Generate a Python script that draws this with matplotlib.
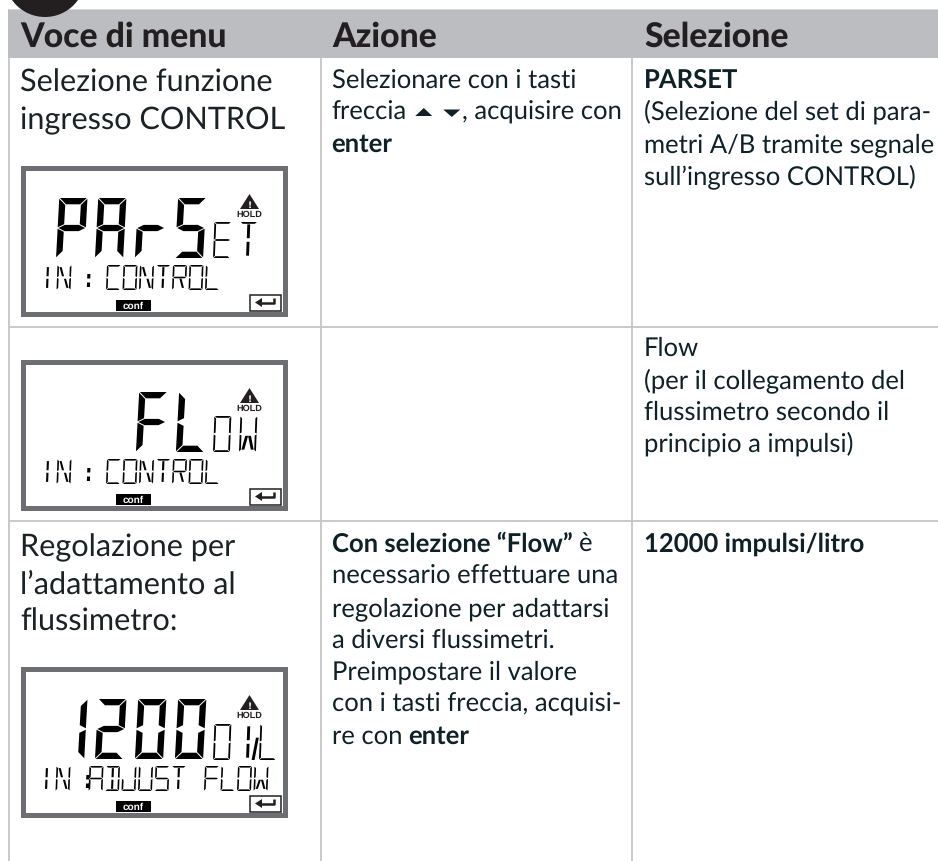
import matplotlib
matplotlib.use('Agg')
import matplotlib.pyplot as plt
from matplotlib.font_manager import FontProperties
from matplotlib.patches import Rectangle, Circle
from matplotlib.textpath import TextPath
from fontTools.fontBuilder import FontBuilder
from fontTools.pens.ttGlyphPen import TTGlyphPen

plt.rcParams['text.hinting'] = 'no_hinting'

# table text
headers = ['Voce di menu', 'Azione', 'Selezione']
menu_rows = [
    ['Selezione funzione', 'ingresso CONTROL'],
    ['Regolazione per', 'l\u2019adattamento al', 'flussimetro:'],
]
action_row1 = [
    [('Selezionare con i tasti', False)],
    [('freccia', False), ('arrows', 'sym'), (', acquisire con', False)],
    [('enter', True)],
]
action_row3 = [
    [('Con selezione \u201CFlow\u201D', True), ('\u00E8', False)],
    [('necessario effettuare una', False)],
    [('regolazione per adattarsi', False)],
    [('a diversi flussimetri.', False)],
    [('Preimpostare il valore', False)],
    [('con i tasti freccia, acquisi-', False)],
    [('re con', False), ('enter', True)],
]
select_row1 = [
    [('PARSET', True)],
    [('(Selezione del set di para-', False)],
    [('metri A/B tramite segnale', False)],
    [('sull\u2019ingresso CONTROL)', False)],
]
select_row2 = [
    [('Flow', False)],
    [('(per il collegamento del', False)],
    [('flussimetro secondo il', False)],
    [('principio a impulsi)', False)],
]
select_row3 = [[('12000 impulsi/litro', True)]]

# what the three LCD panels show: top of frame, big digits, small chars, bottom line
lcd_tops = [165, 359, 666]
lcd_big = ['PArS', '  FL', '1200']
lcd_small = ['ET', 'OW', '0!/L']
lcd_line = ['IN: CONTROL', 'IN: CONTROL', 'IN:ADJUST FLOW']
lcd_line_x = [40.5, 40.5, 39]

# segments lit for each LCD character
big_map = {'P': 'abefg', 'A': 'abcefg', 'r': 'eg', 'S': 'acdfg', 'F': 'aefg', 'L': 'def',
           '1': 'bc', '2': 'abdeg', '0': 'abcdef'}
thin_map = {'I': 'hi', 'N': 'bcefjm', 'C': 'adef', 'O': 'abcdef', 'T': 'ahi', 'R': 'abefgm',
            'L': 'def', 'A': 'abcefg', 'D': 'abcdhi', 'J': 'bcde', 'U': 'bcdef', 'S': 'acdfg',
            'F': 'aefg', 'W': 'bceflm', 'E': 'adefg', '0': 'abcdef', '!': 'hi', '/': 'n', ':': 'p'}

GRID = '#c4c5c7'
BAND = '#bcbdc0'
DARK = '#231f20'
BODY = '#0f2027'
FRAME = '#6d6e71'


def seg_polys(name, w, t, g, extra):
    c = w / 2
    hh = t / 2
    lo = t + g
    if name == 'a':
        return [(g, 1), (w - g, 1), (w - lo, 1 - t), (lo, 1 - t)]
    if name == 'd':
        return [(g, 0), (w - g, 0), (w - lo, t), (lo, t)]
    if name == 'g':
        return [(g, .5), (lo, .5 + hh), (w - lo, .5 + hh), (w - g, .5), (w - lo, .5 - hh), (lo, .5 - hh)]
    if name == 'f':
        return [(0, 1 - g), (t, 1 - lo), (t, .5 + hh + g), (0, .5 + g)]
    if name == 'e':
        return [(0, .5 - g), (t, .5 - hh - g), (t, lo), (0, g)]
    if name == 'b':
        return [(w, 1 - g), (w - t, 1 - lo), (w - t, .5 + hh + g), (w, .5 + g)]
    if name == 'c':
        return [(w, .5 - g), (w - t, .5 - hh - g), (w - t, lo), (w, g)]
    e = extra / 2
    if name == 'h':
        return [(c - e, 1 - lo), (c + e, 1 - lo), (c + e, .55), (c - e, .55)]
    if name == 'i':
        return [(c - e, .45), (c + e, .45), (c + e, lo), (c - e, lo)]
    if name == 'j':
        return [(lo, 1 - lo), (lo + 2 * e, 1 - lo), (c, .55), (c - 2 * e, .55)]
    if name == 'l':
        return [(lo, lo), (lo + 2 * e, lo), (c, .45), (c - 2 * e, .45)]
    if name == 'm':
        return [(w - lo, lo), (w - lo - 2 * e, lo), (c, .45), (c + 2 * e, .45)]
    if name == 'n':
        return [(w * .1, 0), (w * .1 + 2 * e, 0), (w * .3 + 2 * e, .62), (w * .3, .62)]
    raise ValueError(name)


def build_lcd_font(path, family, char_map, adv, w, t, g, extra, slant, char_adv={}):
    # small TrueType font so the LCD lettering stays real text
    order = ['.notdef', 'space']
    cmap = {32: 'space'}
    advs = {'.notdef': adv, 'space': adv}
    glyphs = {'.notdef': TTGlyphPen(None).glyph(), 'space': TTGlyphPen(None).glyph()}
    for ch, segs in char_map.items():
        gname = 'uni%04X' % ord(ch)
        order.append(gname)
        cmap[ord(ch)] = gname
        advs[gname] = char_adv.get(ch, adv)
        pen = TTGlyphPen(None)
        if segs == 'p':
            polys = [[(w * .98, .64), (w * 1.2, .64), (w * 1.2, .46), (w * .98, .46)],
                     [(w * .98, .30), (w * 1.2, .30), (w * 1.2, .12), (w * .98, .12)]]
        else:
            polys = [seg_polys(s, w, t, g, extra) for s in segs]
        for poly in polys:
            pts = [(int(round((x + slant * y) * 1000)), int(round(y * 1000))) for x, y in poly]
            area = sum(pts[k][0] * pts[(k + 1) % len(pts)][1] - pts[(k + 1) % len(pts)][0] * pts[k][1]
                       for k in range(len(pts)))
            if area > 0:
                pts = pts[::-1]
            pen.moveTo(pts[0])
            for p in pts[1:]:
                pen.lineTo(p)
            pen.closePath()
        glyphs[gname] = pen.glyph()
    fb = FontBuilder(1000, isTTF=True)
    fb.setupGlyphOrder(order)
    fb.setupCharacterMap(cmap)
    fb.setupGlyf(glyphs)
    glyf = fb.font['glyf']
    fb.setupHorizontalMetrics({n: (int(advs[n] * 1000), getattr(glyf[n], 'xMin', 0) or 0) for n in order})
    fb.setupHorizontalHeader(ascent=1000, descent=-200)
    fb.setupNameTable({'familyName': family, 'styleName': 'Regular'})
    fb.setupOS2(sTypoAscender=1000, sTypoDescender=-200, usWinAscent=1000, usWinDescent=200)
    fb.setupPost()
    fb.save(path)
    return FontProperties(fname=path)


big_fp = build_lcd_font('lcd_big.ttf', 'LCD Big', big_map, 40 / 60, .47, .105, .012, .1, .055)
# the third panel packs '!/L' tighter than the normal small-character pitch
mid_fp = build_lcd_font('lcd_mid.ttf', 'LCD Mid', thin_map, 27 / 36, .47, .05, .015, .08, .04,
                        char_adv={'!': 11 / 36, '/': 9 / 36})
thin_fp = build_lcd_font('lcd_thin.ttf', 'LCD Thin', thin_map, 16.5 / 25, .56, .065, .02, .085, .04)

PX = 72 / 100
fig = plt.figure(figsize=(9.38, 8.61), dpi=100)
ax = fig.add_axes([0, 0, 1, 1])
ax.set_xlim(0, 938)
ax.set_ylim(861, 0)
ax.axis('off')
renderer = fig.canvas.get_renderer()

FAMILY = 'Lato'
HEAD_WEIGHT = 'black'


def fit_size(s, width, weight):
    fp = FontProperties(family=FAMILY, weight=weight)
    return width / TextPath((0, 0), s, size=1, prop=fp).get_extents().width * PX


size_head = fit_size(headers[0], 205, HEAD_WEIGHT)
size_menu = fit_size(menu_rows[0][0], 251, 'normal')
size_body = fit_size(select_row1[1][0][0], 285, 'normal')


def run_width(s, size, family, weight):
    # bar added on both sides so spaces at the ends are counted
    def ext(txt):
        t = ax.text(0, 0, txt, family=family, weight=weight, size=size)
        w = t.get_window_extent(renderer).width
        t.remove()
        return w
    return ext('|' + s + '|') - ext('||')


def draw_lines(x, y0, lines, pitch=32):
    for n, runs in enumerate(lines):
        xp = x
        y = y0 + n * pitch
        for s, style in runs:
            if style == 'sym':
                # flat arrow keys, up then down
                ax.fill([xp + 2, xp + 19, xp + 10.5], [y - 4, y - 4, y - 12], color=BODY, lw=0)
                ax.fill([xp + 30, xp + 47, xp + 38.5], [y - 10.5, y - 10.5, y - 3], color=BODY, lw=0)
                xp += 49
                continue
            weight = 'bold' if style else 'normal'
            ax.text(xp, y, s, family=FAMILY, weight=weight, size=size_body, color=BODY, va='baseline')
            xp += run_width(s + ' ', size_body, FAMILY, weight)


def draw_lcd(x0, y0, big, small, line, line_x):
    ax.add_patch(Rectangle((x0 + 2.5, y0 + 2.5), 262, 146, fc='white', ec=FRAME, lw=5 * PX))
    ax.text(x0 + 36, y0 + 93, big, fontproperties=big_fp, size=60 * PX, color='black', va='baseline')
    ax.text(x0 + 193, y0 + 93.5, small, fontproperties=mid_fp, size=36 * PX, color='black', va='baseline')
    ax.text(line_x, y0 + 125, line, fontproperties=thin_fp, size=25 * PX, color='black', va='baseline')
    # warning triangle and HOLD
    cx = x0 + 229.5
    ax.fill([cx - 9.5, cx + 9.5, cx], [y0 + 44, y0 + 44, y0 + 29], color=DARK, lw=0)
    ax.text(cx, y0 + 43, '!', color='white', weight='bold', family='DejaVu Sans', size=6.5, ha='center', va='baseline')
    ax.text(cx, y0 + 52, 'HOLD', color=DARK, weight='bold', family='Liberation Sans', size=6.6, ha='center', va='baseline')
    # conf tag
    ax.add_patch(Rectangle((x0 + 96, y0 + 135), 35, 11, fc='black', ec='none'))
    ax.text(x0 + 113.5, y0 + 143.5, 'conf', color='white', weight='bold', family='Liberation Sans', size=7.2, ha='center', va='baseline')
    # enter key
    ax.add_patch(Rectangle((x0 + 229.5, y0 + 129.5), 31, 16, fc='white', ec=DARK, lw=1.1))
    ax.plot([x0 + 240, x0 + 254, x0 + 254], [y0 + 137.5, y0 + 137.5, y0 + 132.5], color=DARK, lw=1.8, solid_capstyle='butt')
    ax.fill([x0 + 235, x0 + 242, x0 + 242], [y0 + 137.5, y0 + 133, y0 + 142], color=DARK, lw=0)


# header band, grid lines, badge
ax.add_patch(Rectangle((7.5, 9), 931, 49, fc=BAND, ec='none'))
ax.plot([9, 938], [8.8, 8.8], color='#dcdddf', lw=.6)
ax.add_patch(Circle((45, -23.5), 40.5, fc=DARK, ec='none', zorder=3))
for x in [9, 320.5, 632]:
    ax.plot([x, x], [58, 861], color=GRID, lw=1.3, solid_capstyle='butt')
for y in [326.5, 521]:
    ax.plot([9, 938], [y, y], color=GRID, lw=1.3, solid_capstyle='butt')

for x, s in zip([20, 332, 644], headers):
    ax.text(x, 47, s, family=FAMILY, weight=HEAD_WEIGHT, size=size_head, color=DARK, va='baseline')

for y0, rows in zip([92, 556.5], menu_rows):
    for n, s in enumerate(rows):
        ax.text(20, y0 + n * 37, s, family=FAMILY, size=size_menu, color='#1a2226', va='baseline')

draw_lines(331.5, 88, action_row1)
draw_lines(331.5, 552, action_row3)
draw_lines(643.5, 88, select_row1)
draw_lines(643.5, 356, select_row2)
draw_lines(643.5, 552, select_row3)

for k, top in enumerate(lcd_tops):
    draw_lcd(20, top, lcd_big[k], lcd_small[k], lcd_line[k], lcd_line_x[k])

fig.savefig('out.png', dpi=100)
